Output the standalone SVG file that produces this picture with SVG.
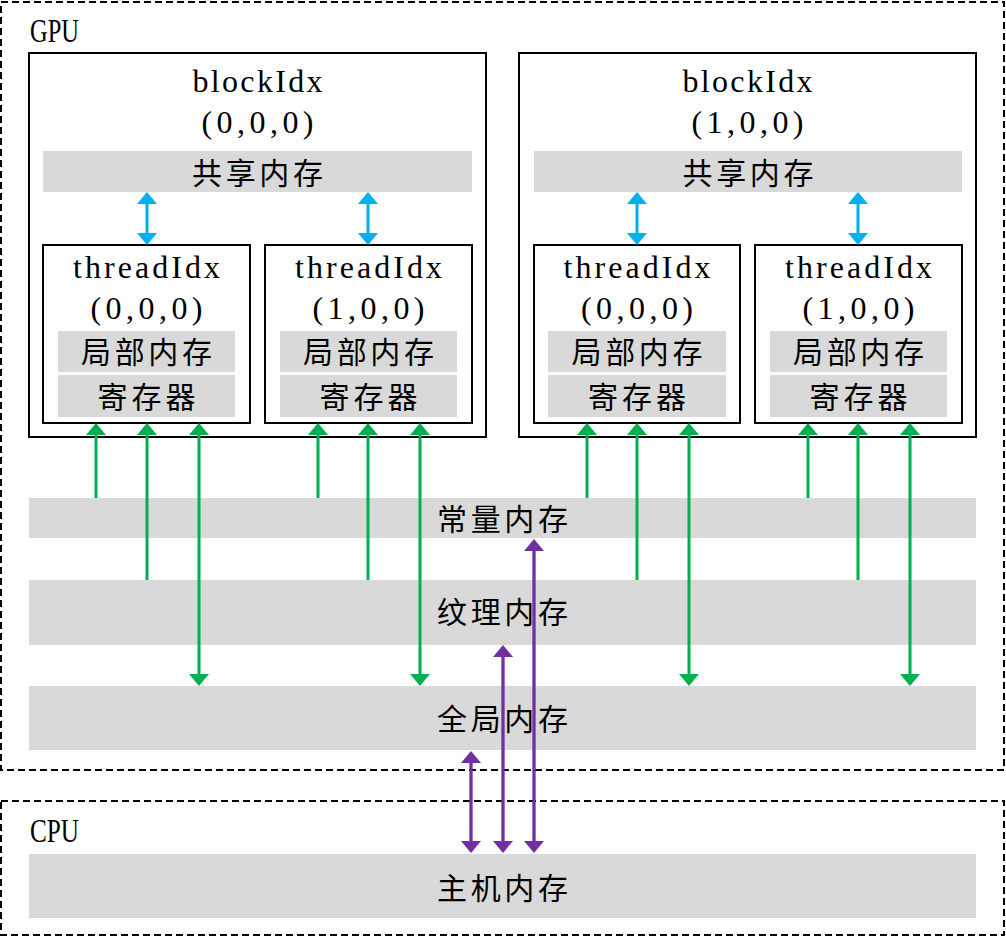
<svg xmlns="http://www.w3.org/2000/svg" width="1006" height="937" viewBox="0 0 1006 937">
<style>
.dash{fill:none;stroke:#000;stroke-width:2;stroke-dasharray:7 4}
.box{fill:#fff;stroke:#000;stroke-width:2}
.bar{fill:#d9d9d9}
.lat{font-family:"Liberation Serif","Noto Sans CJK SC",serif;font-size:32px;fill:#000;text-anchor:middle}
.cjk{font-family:"Noto Sans CJK SC",sans-serif;font-size:30px;fill:#000;text-anchor:middle}
.lbl{font-family:"Liberation Serif",serif;font-size:33px;fill:#000}
.g{stroke:#00b050;stroke-width:3;fill:none}
.b{stroke:#00b0f0;stroke-width:3;fill:none}
.p{stroke:#7030a0;stroke-width:3.3;fill:none}
</style>
<defs>
<marker id="ag" viewBox="0 0 12 20" markerUnits="userSpaceOnUse" markerWidth="12" markerHeight="20" refX="10" refY="10" orient="auto-start-reverse"><path d="M0,0L12,10L0,20z" fill="#00b050"/></marker>
<marker id="ab" viewBox="0 0 12 20" markerUnits="userSpaceOnUse" markerWidth="12" markerHeight="20" refX="10" refY="10" orient="auto-start-reverse"><path d="M0,0L12,10L0,20z" fill="#00b0f0"/></marker>
<marker id="ap" viewBox="0 0 12 20" markerUnits="userSpaceOnUse" markerWidth="12" markerHeight="20" refX="10" refY="10" orient="auto-start-reverse"><path d="M0,0L12,10L0,20z" fill="#7030a0"/></marker>
</defs>

<g id="gpu">
<rect class="dash" x="1" y="2" width="1003" height="768"/>
<text class="lbl" x="30" y="42" textLength="49" lengthAdjust="spacingAndGlyphs">GPU</text>
</g>

<g id="block0">
<rect class="box" x="29" y="53" width="457" height="384"/>
<text class="lat" x="257.5" y="92" textLength="130">blockIdx</text>
<text class="lat" x="257.5" y="133" textLength="112">(0,0,0)</text>
<rect class="bar" x="43" y="151" width="429" height="41"/>
<text class="cjk" x="257.5" y="183.5" textLength="131">共享内存</text>
</g>
<g id="block0-thread0">
<rect class="box" x="43" y="245" width="207" height="178"/>
<text class="lat" x="146.5" y="278" textLength="147">threadIdx</text>
<text class="lat" x="146.5" y="319" textLength="112">(0,0,0)</text>
<rect class="bar" x="58" y="331" width="177" height="41"/>
<text class="cjk" x="146.5" y="362.5" textLength="131">局部内存</text>
<rect class="bar" x="58" y="375" width="177" height="42"/>
<text class="cjk" x="146.5" y="407.5" textLength="98">寄存器</text>
</g>
<g id="block0-thread1">
<rect class="box" x="265" y="245" width="207" height="178"/>
<text class="lat" x="368.5" y="278" textLength="147">threadIdx</text>
<text class="lat" x="368.5" y="319" textLength="112">(1,0,0)</text>
<rect class="bar" x="280" y="331" width="177" height="41"/>
<text class="cjk" x="368.5" y="362.5" textLength="131">局部内存</text>
<rect class="bar" x="280" y="375" width="177" height="42"/>
<text class="cjk" x="368.5" y="407.5" textLength="98">寄存器</text>
</g>

<g id="block1">
<rect class="box" x="519" y="53" width="457" height="384"/>
<text class="lat" x="747.5" y="92" textLength="130">blockIdx</text>
<text class="lat" x="747.5" y="133" textLength="112">(1,0,0)</text>
<rect class="bar" x="534" y="151" width="428" height="41"/>
<text class="cjk" x="748" y="183.5" textLength="131">共享内存</text>
</g>
<g id="block1-thread0">
<rect class="box" x="534" y="245" width="206" height="178"/>
<text class="lat" x="637" y="278" textLength="147">threadIdx</text>
<text class="lat" x="637" y="319" textLength="112">(0,0,0)</text>
<rect class="bar" x="548" y="331" width="178" height="41"/>
<text class="cjk" x="637" y="362.5" textLength="131">局部内存</text>
<rect class="bar" x="548" y="375" width="178" height="42"/>
<text class="cjk" x="637" y="407.5" textLength="98">寄存器</text>
</g>
<g id="block1-thread1">
<rect class="box" x="755" y="245" width="207" height="178"/>
<text class="lat" x="858.5" y="278" textLength="147">threadIdx</text>
<text class="lat" x="858.5" y="319" textLength="112">(1,0,0)</text>
<rect class="bar" x="770" y="331" width="177" height="41"/>
<text class="cjk" x="858.5" y="362.5" textLength="131">局部内存</text>
<rect class="bar" x="770" y="375" width="177" height="42"/>
<text class="cjk" x="858.5" y="407.5" textLength="98">寄存器</text>
</g>

<g id="constant-memory">
<rect class="bar" x="29" y="498" width="947" height="40"/>
<text class="cjk" x="502.5" y="530" textLength="131">常量内存</text>
</g>
<g id="texture-memory">
<rect class="bar" x="29" y="580" width="947" height="65"/>
<text class="cjk" x="502.5" y="623" textLength="131">纹理内存</text>
</g>
<g id="global-memory">
<rect class="bar" x="29" y="686" width="947" height="64"/>
<text class="cjk" x="502.5" y="730" textLength="131">全局内存</text>
</g>

<g id="cpu">
<rect class="dash" x="1" y="801" width="1003" height="134"/>
<text class="lbl" x="30" y="842" textLength="49" lengthAdjust="spacingAndGlyphs">CPU</text>
</g>
<g id="host-memory">
<rect class="bar" x="29" y="854" width="947" height="64"/>
<text class="cjk" x="502.5" y="898.5" textLength="131">主机内存</text>
</g>

<g id="connectors">
<line class="b" x1="147" y1="194" x2="147" y2="243" marker-start="url(#ab)" marker-end="url(#ab)"/>
<line class="b" x1="368" y1="194" x2="368" y2="243" marker-start="url(#ab)" marker-end="url(#ab)"/>
<line class="b" x1="637" y1="194" x2="637" y2="243" marker-start="url(#ab)" marker-end="url(#ab)"/>
<line class="b" x1="858" y1="194" x2="858" y2="243" marker-start="url(#ab)" marker-end="url(#ab)"/>

<line class="g" x1="96" y1="498" x2="96" y2="425" marker-end="url(#ag)"/>
<line class="g" x1="318" y1="498" x2="318" y2="425" marker-end="url(#ag)"/>
<line class="g" x1="587" y1="498" x2="587" y2="425" marker-end="url(#ag)"/>
<line class="g" x1="808" y1="498" x2="808" y2="425" marker-end="url(#ag)"/>

<line class="g" x1="147" y1="580" x2="147" y2="425" marker-end="url(#ag)"/>
<line class="g" x1="368" y1="580" x2="368" y2="425" marker-end="url(#ag)"/>
<line class="g" x1="637" y1="580" x2="637" y2="425" marker-end="url(#ag)"/>
<line class="g" x1="858" y1="580" x2="858" y2="425" marker-end="url(#ag)"/>

<line class="g" x1="199" y1="425" x2="199" y2="684" marker-start="url(#ag)" marker-end="url(#ag)"/>
<line class="g" x1="420" y1="425" x2="420" y2="684" marker-start="url(#ag)" marker-end="url(#ag)"/>
<line class="g" x1="689" y1="425" x2="689" y2="684" marker-start="url(#ag)" marker-end="url(#ag)"/>
<line class="g" x1="910" y1="425" x2="910" y2="684" marker-start="url(#ag)" marker-end="url(#ag)"/>

<line class="p" x1="471" y1="753" x2="471" y2="851" marker-start="url(#ap)" marker-end="url(#ap)"/>
<line class="p" x1="503" y1="647" x2="503" y2="851" marker-start="url(#ap)" marker-end="url(#ap)"/>
<line class="p" x1="534" y1="541" x2="534" y2="851" marker-start="url(#ap)" marker-end="url(#ap)"/>
</g>
</svg>
